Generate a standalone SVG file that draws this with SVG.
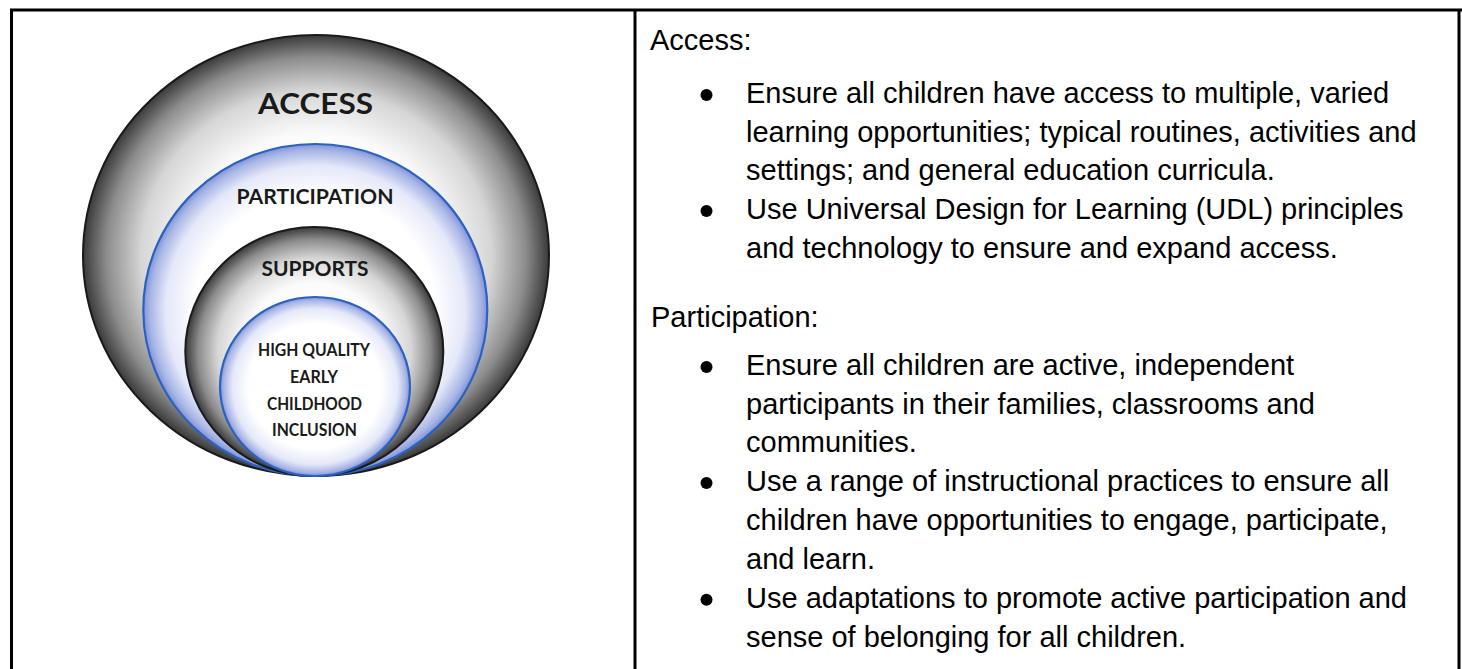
<svg xmlns="http://www.w3.org/2000/svg" width="1462" height="669" viewBox="0 0 1462 669">
<style>
.t{font-family:"Liberation Sans",Arial,sans-serif;font-size:29px;fill:#000}
.c{font-family:Lato,"Open Sans",sans-serif;font-weight:bold;fill:#1a1a1a;text-anchor:middle}
.b{fill:#000}
.gray{stroke:#1a1a1a;stroke-width:2}
.blue{stroke:#2b62c0;stroke-width:2.2}
.rule{stroke:#000;stroke-width:3;fill:none}
</style>
<defs>
<radialGradient id="gGray" cx="0.5" cy="0.5" r="0.5">
<stop offset="0" stop-color="#ffffff"/>
<stop offset="0.55" stop-color="#fbfbfb"/>
<stop offset="0.75" stop-color="#d6d6d6"/>
<stop offset="0.9" stop-color="#8c8c8c"/>
<stop offset="1" stop-color="#3a3a3a"/>
</radialGradient>
<radialGradient id="gBlue" cx="0.5" cy="0.5" r="0.5">
<stop offset="0" stop-color="#ffffff"/>
<stop offset="0.7" stop-color="#ffffff"/>
<stop offset="0.87" stop-color="#e4e8f8"/>
<stop offset="0.96" stop-color="#a9b6e6"/>
<stop offset="1" stop-color="#7f93d8"/>
</radialGradient>
</defs>
<rect x="0" y="0" width="1462" height="669" fill="#fff"/>
<g id="table">
<line class="rule" x1="10" y1="10" x2="1462" y2="10"/>
<line class="rule" x1="11.5" y1="9" x2="11.5" y2="669"/>
<line class="rule" x1="635" y1="9" x2="635" y2="669"/>
<line class="rule" x1="1459" y1="9" x2="1459" y2="669"/>
</g>
<g id="access-circle">
<ellipse class="gray" cx="316" cy="255.5" rx="233" ry="220.5" fill="url(#gGray)"/>
<text class="c" x="315.5" y="114" font-size="28" textLength="115" lengthAdjust="spacingAndGlyphs">ACCESS</text>
</g>
<g id="participation-circle">
<ellipse class="blue" cx="315.3" cy="310" rx="172" ry="166" fill="url(#gBlue)"/>
<text class="c" x="315" y="204" font-size="20.5" textLength="157" lengthAdjust="spacingAndGlyphs">PARTICIPATION</text>
</g>
<g id="supports-circle">
<ellipse class="gray" cx="314.3" cy="351.5" rx="129" ry="124.5" fill="url(#gGray)"/>
<text class="c" x="315" y="276" font-size="21" textLength="107" lengthAdjust="spacingAndGlyphs">SUPPORTS</text>
</g>
<g id="inclusion-circle">
<ellipse class="blue" cx="315" cy="386.5" rx="95" ry="89.5" fill="url(#gBlue)"/>
<text class="c" x="314" y="356" font-size="16.5" textLength="112" lengthAdjust="spacingAndGlyphs">HIGH QUALITY</text>
<text class="c" x="314" y="383" font-size="16.5" textLength="48" lengthAdjust="spacingAndGlyphs">EARLY</text>
<text class="c" x="314.5" y="410" font-size="16.5" textLength="95" lengthAdjust="spacingAndGlyphs">CHILDHOOD</text>
<text class="c" x="314.5" y="436" font-size="16.5" textLength="85" lengthAdjust="spacingAndGlyphs">INCLUSION</text>
</g>
<g id="access-text">
<text class="t" x="650" y="50">Access:</text>
<circle class="b" cx="706.5" cy="95" r="6"/>
<text class="t" x="746" y="103">Ensure all children have access to multiple, varied</text>
<text class="t" x="746" y="141.7">learning opportunities; typical routines, activities and</text>
<text class="t" x="746" y="180.4">settings; and general education curricula.</text>
<circle class="b" cx="706.5" cy="211.1" r="6"/>
<text class="t" x="746" y="219.1">Use Universal Design for Learning (UDL) principles</text>
<text class="t" x="746" y="257.8">and technology to ensure and expand access.</text>
</g>
<g id="participation-text">
<text class="t" x="651" y="327">Participation:</text>
<circle class="b" cx="706.5" cy="367" r="6"/>
<text class="t" x="746" y="375">Ensure all children are active, independent</text>
<text class="t" x="746" y="413.7">participants in their families, classrooms and</text>
<text class="t" x="746" y="452.4">communities.</text>
<circle class="b" cx="706.5" cy="483.1" r="6"/>
<text class="t" x="746" y="491.1">Use a range of instructional practices to ensure all</text>
<text class="t" x="746" y="530.3">children have opportunities to engage, participate,</text>
<text class="t" x="746" y="569">and learn.</text>
<circle class="b" cx="706.5" cy="599.7" r="6"/>
<text class="t" x="746" y="607.7">Use adaptations to promote active participation and</text>
<text class="t" x="746" y="646.5">sense of belonging for all children.</text>
</g>
</svg>
